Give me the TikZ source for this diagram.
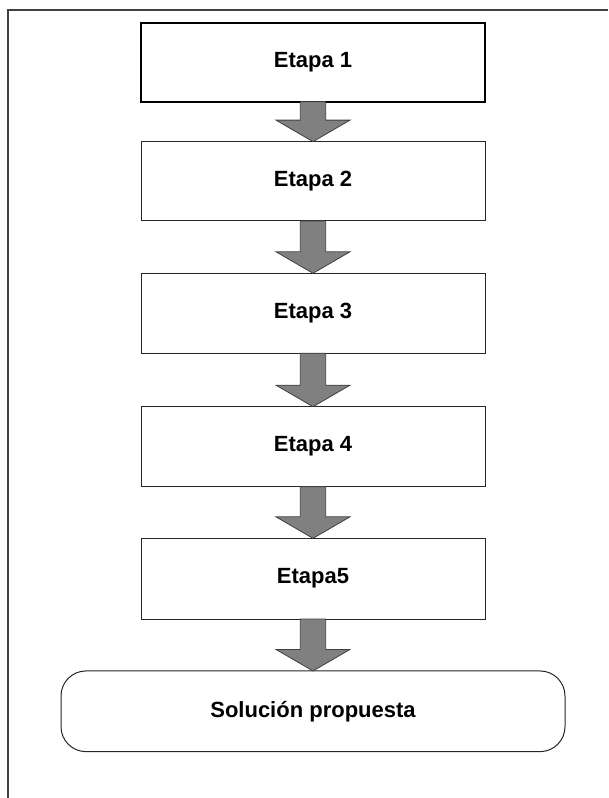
\documentclass[tikz,border=0pt]{standalone}
\usepackage{fontspec}
\setmainfont{Liberation Sans}
\usetikzlibrary{calc}
\begin{document}
\begin{tikzpicture}[x=1pt,y=1pt,
  stepbox/.style={draw=black!85, line width=1pt, fill=white, minimum width=344pt,
     inner sep=0pt, outer sep=0pt, font=\fontsize{22}{26}\selectfont\bfseries},
  firstbox/.style={stepbox, draw=black, line width=2pt},
  solbox/.style={stepbox, minimum width=504pt, rounded corners=25pt},
  bigarrow/.style={draw=black!75, line width=0.8pt, fill=black!50},
  frameline/.style={draw=black!75, line width=1.3pt}]
\useasboundingbox (0,0) rectangle (608,798);
\coordinate (fa) at (8,0);
\coordinate (fb) at (8,788);
\coordinate (fc) at (608,788);
\draw[frameline] (fa) -- (fb) -- (fc);
\node[firstbox, minimum height=79pt] (e1) at (313,735.8) {Etapa 1};
\node[stepbox, minimum height=79.3pt] (e2) at (313,616.7) {Etapa 2};
\node[stepbox, minimum height=80pt] (e3) at (313,484.7) {Etapa 3};
\node[stepbox, minimum height=80pt] (e4) at (313,351.3) {Etapa 4};
\node[stepbox, minimum height=80.7pt] (e5) at (313,219.3) {Etapa5};
\node[solbox, minimum height=80.7pt] (sol) at (313,86.7) {Solución propuesta};
\foreach \a/\b in {e1/e2,e2/e3,e3/e4,e4/e5,e5/sol}{
  \draw[bigarrow] ($(\a.south)+(-12.7,0)$) -- ($(\b.north)+(-12.7,21.5)$)
    -- ($(\b.north)+(-37,21.5)$) -- (\b.north) -- ($(\b.north)+(37,21.5)$)
    -- ($(\b.north)+(12.7,21.5)$) -- ($(\a.south)+(12.7,0)$) -- cycle;
}
\end{tikzpicture}
\end{document}
